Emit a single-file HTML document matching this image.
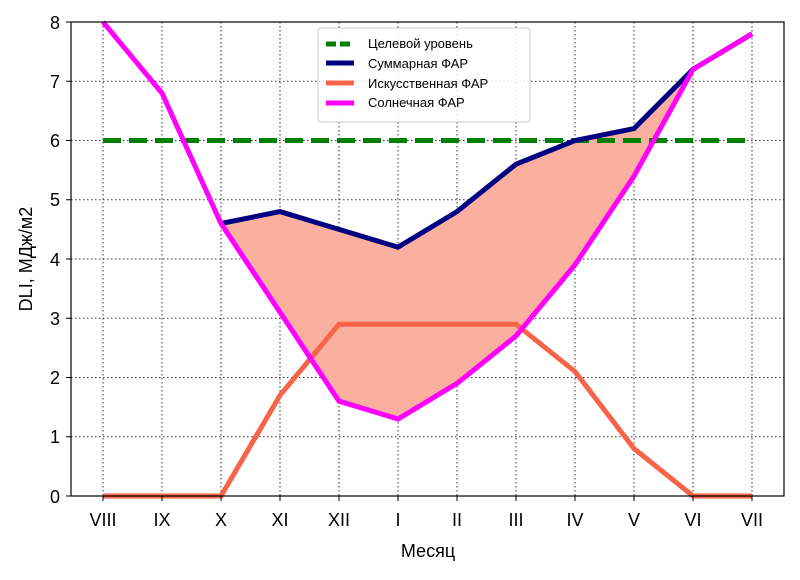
<!DOCTYPE html><html><head><style>body{margin:0;background:#fff}svg{font-family:"Liberation Sans",sans-serif}</style></head><body>
<svg width="800" height="575" xmlns="http://www.w3.org/2000/svg">
<g stroke="#333" stroke-width="1" stroke-dasharray="1.5,2.5">
<line x1="103" y1="22" x2="103" y2="496"/><line x1="162" y1="22" x2="162" y2="496"/><line x1="221" y1="22" x2="221" y2="496"/><line x1="280" y1="22" x2="280" y2="496"/><line x1="339" y1="22" x2="339" y2="496"/><line x1="398" y1="22" x2="398" y2="496"/><line x1="457" y1="22" x2="457" y2="496"/><line x1="516" y1="22" x2="516" y2="496"/><line x1="575" y1="22" x2="575" y2="496"/><line x1="634" y1="22" x2="634" y2="496"/><line x1="693" y1="22" x2="693" y2="496"/><line x1="752" y1="22" x2="752" y2="496"/>
<line x1="71" y1="436.75" x2="784" y2="436.75"/><line x1="71" y1="377.5" x2="784" y2="377.5"/><line x1="71" y1="318.25" x2="784" y2="318.25"/><line x1="71" y1="259" x2="784" y2="259"/><line x1="71" y1="199.75" x2="784" y2="199.75"/><line x1="71" y1="140.5" x2="784" y2="140.5"/><line x1="71" y1="81.25" x2="784" y2="81.25"/>
</g>
<polygon fill="#fbaf9f" points="221,223.5 280,211.6 339,229.4 398,247.2 457,211.6 516,164.2 575,140.5 634,128.6 693,69.4 752,33.8 752,33.8 693,69.4 634,176.1 575,264.9 516,336 457,383.4 398,419 339,401.2 280,312.3 221,223.5"/>
<line x1="103" y1="140.5" x2="752" y2="140.5" stroke="#008000" stroke-width="5" stroke-dasharray="18,8"/>
<polyline fill="none" stroke="#000080" stroke-width="5" points="221,223.5 280,211.6 339,229.4 398,247.2 457,211.6 516,164.2 575,140.5 634,128.6 693,69.4 752,33.8"/>
<polyline fill="none" stroke="#f86447" stroke-width="5" points="103,496 162,496 221,496 280,395.3 339,324.2 398,324.2 457,324.2 516,324.2 575,371.6 634,448.6 693,496 752,496"/>
<polyline fill="none" stroke="#ff00ff" stroke-width="5" points="103,22 162,93.1 221,223.5 280,312.3 339,401.2 398,419 457,383.4 516,336 575,264.9 634,176.1 693,69.4 752,33.8"/>
<rect x="71" y="22" width="713" height="474" fill="none" stroke="#000" stroke-width="1.2"/>
<g stroke="#000"><line x1="103" y1="496" x2="103" y2="501"/><line x1="162" y1="496" x2="162" y2="501"/><line x1="221" y1="496" x2="221" y2="501"/><line x1="280" y1="496" x2="280" y2="501"/><line x1="339" y1="496" x2="339" y2="501"/><line x1="398" y1="496" x2="398" y2="501"/><line x1="457" y1="496" x2="457" y2="501"/><line x1="516" y1="496" x2="516" y2="501"/><line x1="575" y1="496" x2="575" y2="501"/><line x1="634" y1="496" x2="634" y2="501"/><line x1="693" y1="496" x2="693" y2="501"/><line x1="752" y1="496" x2="752" y2="501"/>
<line x1="66" y1="496" x2="71" y2="496"/><line x1="66" y1="436.75" x2="71" y2="436.75"/><line x1="66" y1="377.5" x2="71" y2="377.5"/><line x1="66" y1="318.25" x2="71" y2="318.25"/><line x1="66" y1="259" x2="71" y2="259"/><line x1="66" y1="199.75" x2="71" y2="199.75"/><line x1="66" y1="140.5" x2="71" y2="140.5"/><line x1="66" y1="81.25" x2="71" y2="81.25"/><line x1="66" y1="22" x2="71" y2="22"/></g>
<g font-size="18" text-anchor="end"><text x="60" y="503">0</text><text x="60" y="443">1</text><text x="60" y="384">2</text><text x="60" y="325">3</text><text x="60" y="266">4</text><text x="60" y="206">5</text><text x="60" y="147">6</text><text x="60" y="88">7</text><text x="60" y="29">8</text></g>
<g font-size="18" text-anchor="middle"><text x="103" y="526">VIII</text><text x="162" y="526">IX</text><text x="221" y="526">X</text><text x="280" y="526">XI</text><text x="339" y="526">XII</text><text x="398" y="526">I</text><text x="457" y="526">II</text><text x="516" y="526">III</text><text x="575" y="526">IV</text><text x="634" y="526">V</text><text x="693" y="526">VI</text><text x="752" y="526">VII</text>
<text x="428" y="557">Месяц</text>
<text transform="translate(32,259) rotate(-90)">DLI, МДж/м2</text></g>
<rect x="318" y="28" width="212" height="94" fill="#fff" fill-opacity="0.85" stroke="#ccc" rx="3"/>
<g stroke-width="5"><line x1="326" y1="44" x2="354" y2="44" stroke="#008000" stroke-dasharray="10,4"/><line x1="326" y1="63" x2="354" y2="63" stroke="#000080"/><line x1="326" y1="83" x2="354" y2="83" stroke="#f86447"/><line x1="326" y1="103" x2="354" y2="103" stroke="#ff00ff"/></g>
<g font-size="13"><text x="368" y="48">Целевой уровень</text><text x="368" y="68">Суммарная ФАР</text><text x="368" y="88">Искусственная ФАР</text><text x="368" y="107">Солнечная ФАР</text></g>
</svg></body></html>
